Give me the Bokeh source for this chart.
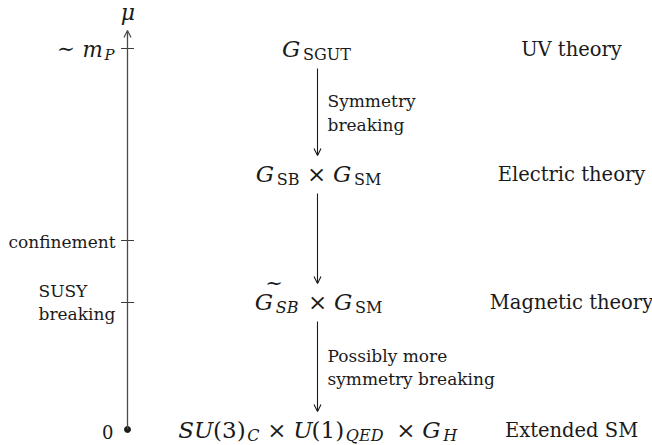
from bokeh.plotting import figure
from bokeh.models import Range1d, Arrow, OpenHead, ColumnDataSource
from bokeh.core.properties import value
from bokeh.embed import file_html
from bokeh.resources import INLINE

# ---------------- diagram content ----------------
# vertical levels (page rows) of the four stages of the flow
stage_y = [48, 173, 301, 429]
theory_names = ["UV theory", "Electric theory", "Magnetic theory", "Extended SM"]

# gauge groups as (text, kind) pieces: mi = math italic, r = roman,
# si / sr = italic / roman subscript, bin = binary operator, ti = tilded italic
group_exprs = [
    [("G", "mi"), ("SGUT", "sr")],
    [("G", "mi"), ("SB", "sr"), ("×", "bin"), ("G", "mi"), ("SM", "sr")],
    [("G", "ti"), ("SB", "si"), ("×", "bin"), ("G", "mi"), ("SM", "sr")],
    [("SU", "mi"), ("(3)", "r"), ("C", "si"), ("×", "bin"), ("U", "mi"), ("(1)", "r"),
     ("QED", "si"), ("×", "bin"), ("G", "mi"), ("H", "si")],
]

# labels of the arrows between consecutive stages
arrow_labels = [["Symmetry", "breaking"], [], ["Possibly more", "symmetry breaking"]]

# energy scale axis
axis_label = "μ"
tick_y = [48, 240, 302]
tick_texts = ["confinement", "SUSY", "breaking", "0"]
planck_expr = [("∼", "rel"), ("m", "mi"), ("P", "si")]

# ---------------- layout / style ----------------
SERIF = value("DejaVu Serif")
INK = "#1a1a1a"
AXIS_X = 127
CENTER_X = 318
RIGHT_X = 571
SLOT_MAIN, SLOT_SUB = 26.8, 18.5     # advance widths (TeX-like spacing)
GLYPH_MAIN, GLYPH_SUB = 23, 16       # rendered glyph sizes
SHIFT = 0.3                          # baseline correction (fraction of size)

MI = {"G": .786, "S": .613, "U": .683, "m": .878, "P": .642, "B": .759, "M": .970,
      "C": .715, "Q": .791, "E": .738, "D": .828, "H": .831}
RM = {"(": .389, ")": .389, "1": .5, "3": .5, "S": .556, "G": .785, "U": .75,
      "T": .722, "B": .708, "M": .917, "×": .778, "∼": .778}

p = figure(width=652, height=445, x_range=Range1d(0, 652), y_range=Range1d(445, 0),
           output_backend="svg", toolbar_location=None, min_border=0)
p.axis.visible = False
p.grid.visible = False
p.outline_line_color = None
p.background_fill_color = "white"
p.border_fill_color = "white"


def txt(xs, ys, texts, size, style="normal", align="left"):
    p.text(x=xs, y=[y - SHIFT * size for y in ys], text=texts, text_font=SERIF,
           text_font_size=f"{size}px", text_font_style=style, text_align=align,
           text_baseline="alphabetic", text_color=INK)


def seg_width(t, kind, scale):
    main, sub = SLOT_MAIN * scale, SLOT_SUB * scale
    if kind in ("mi", "ti"):
        return sum(MI[c] for c in t) * main
    if kind == "r":
        return sum(RM[c] for c in t) * main
    if kind == "si":
        return sum(MI[c] for c in t) * sub
    if kind == "sr":
        return sum(RM[c] for c in t) * sub
    if kind == "bin":
        return (0.444 + RM[t]) * main
    if kind == "rel":
        return (0.278 + RM[t]) * main
    return 0


def place(expr, x0, base, scale=1.0, align="center"):
    total = sum(seg_width(t, k, scale) for t, k in expr)
    x = x0 - total / 2 if align == "center" else x0 - total
    gm, gs = round(GLYPH_MAIN * scale, 1), round(GLYPH_SUB * scale, 1)
    for t, k in expr:
        w = seg_width(t, k, scale)
        if k in ("mi", "ti"):
            txt([x], [base], [t], gm, "italic")
            if k == "ti":
                txt([x + 10.5], [base - 19], ["~"], 21)
        elif k == "r":
            txt([x], [base], [t], gm)
        elif k == "si":
            txt([x], [base + 4 * scale], [t], gs, "italic")
        elif k == "sr":
            txt([x], [base + 4 * scale], [t], gs)
        elif k == "bin":
            txt([x + w / 2], [base], [t], gm, align="center")
        elif k == "rel":
            txt([x + RM[t] * SLOT_MAIN * scale / 2], [base - 1], [t], gm, align="center")
        x += w


# energy axis with arrow head, ticks and bottom dot
p.add_layout(Arrow(end=OpenHead(size=7, line_width=1.2, line_color="#4a4a4a"),
                   x_start=AXIS_X, y_start=stage_y[-1], x_end=AXIS_X, y_end=30,
                   line_width=1.3, line_color="#4a4a4a"))
p.segment(x0=[AXIS_X - 6.5] * len(tick_y), x1=[AXIS_X + 6.5] * len(tick_y),
          y0=tick_y, y1=tick_y, line_color="#3a3a3a", line_width=1.1)
p.scatter(x=[AXIS_X], y=[stage_y[-1]], size=6, color=INK)
txt([AXIS_X + 0.5], [19], [axis_label], 22, "italic", "center")

# left labels
place(planck_expr, 115, stage_y[0] + 7, scale=0.93, align="right")
txt([115], [tick_y[1] + 7], [tick_texts[0]], 17, align="right")
txt([38, 38], [tick_y[2] - 6, tick_y[2] + 17], tick_texts[1:3], 17)
txt([113], [stage_y[-1] + 8], [tick_texts[3]], 18, align="right")

# gauge groups
for expr, y in zip(group_exprs, stage_y):
    place(expr, CENTER_X, y + 7)

# arrows between stages and their labels
xs, ys0, ys1 = [], [], []
lx, ly, lt = [], [], []
for i, labels in enumerate(arrow_labels):
    y0, y1 = stage_y[i] + 20, stage_y[i + 1] - 18
    xs.append(CENTER_X - 1); ys0.append(y0); ys1.append(y1)
    mid = (y0 + y1) / 2
    for j, t in enumerate(labels):
        lx.append(CENTER_X + 9); ly.append(mid + 6 + (j - (len(labels) - 1) / 2) * 23.5)
        lt.append(t)
src = ColumnDataSource(dict(x0=xs, y0=ys0, x1=xs, y1=ys1))
p.add_layout(Arrow(end=OpenHead(size=7, line_width=1.1, line_color=INK), source=src,
                   x_start="x0", y_start="y0", x_end="x1", y_end="y1",
                   line_width=1.1, line_color=INK))
txt(lx, ly, lt, 17)

# right column: names of the theories
txt([RIGHT_X] * 4, [y + 7 for y in stage_y], theory_names, 19.5, align="center")

open("out.html", "w").write(file_html(p, INLINE))
